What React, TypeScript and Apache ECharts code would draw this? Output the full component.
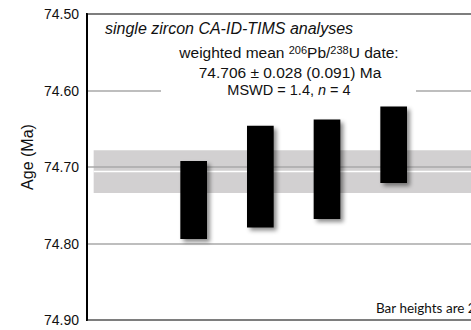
import React, { useEffect, useRef } from "react";
import * as echarts from "echarts";

// Analyses: x position, 2σ range (Ma)
const analyses = [1, 2, 3, 4];
const barTop = [74.692, 74.646, 74.638, 74.621];
const barBottom = [74.794, 74.779, 74.768, 74.721];

// weighted mean and uncertainty
const meanAge = 74.706;
const meanErr = 0.028;
const bandRange = [-0.5, 6.9];

const yTicks = [74.5, 74.6, 74.7, 74.8, 74.9];

export default function App() {
  const ref = useRef<HTMLDivElement>(null);
  useEffect(() => {
    if (!ref.current) return;
    const chart = echarts.init(ref.current, undefined, { renderer: "svg" });
    const font = "'Liberation Sans', Arial, sans-serif";
    chart.setOption({
      animation: false,
      backgroundColor: "#fff",
      grid: {
        left: 87,
        top: 14,
        width: 500,
        height: 306,
        outerBoundsMode: "none",
        containLabel: false,
        show: true,
        borderColor: "#000",
        borderWidth: 2,
        backgroundColor: "transparent",
      },
      xAxis: {
        type: "value",
        min: -0.6,
        max: 6.9,
        show: false,
      },
      yAxis: {
        type: "value",
        inverse: true,
        min: yTicks[0],
        max: yTicks[yTicks.length - 1],
        interval: 0.1,
        axisLine: { show: true, onZero: false, lineStyle: { color: "#000", width: 2 } },
        axisTick: { show: false },
        axisLabel: {
          color: "#111",
          fontFamily: font,
          fontSize: 14,
          margin: 8,
          formatter: (v: number) => v.toFixed(2),
        },
        splitLine: { show: true, lineStyle: { color: "#a8a8a8", width: 1.5 } },
      },
      series: [
        {
          type: "custom",
          z: -1,
          silent: true,
          data: [[bandRange[0], bandRange[1]]],
          renderItem: (params: any, api: any) => {
            const x0 = api.value(0);
            const x1 = api.value(1);
            const p0 = api.coord([x0, meanAge - meanErr]);
            const p1 = api.coord([x1, meanAge + meanErr]);
            const m0 = api.coord([x0, meanAge]);
            const m1 = api.coord([x1, meanAge]);
            return {
              type: "group",
              children: [
                {
                  type: "rect",
                  shape: { x: p0[0], y: p0[1], width: p1[0] - p0[0], height: p1[1] - p0[1] },
                  style: { fill: "#d2d0d1" },
                },
                {
                  type: "line",
                  shape: { x1: m0[0], y1: m0[1], x2: m1[0], y2: m1[1] },
                  style: { stroke: "#fff", lineWidth: 1.5 },
                },
              ],
            };
          },
        },
        {
          type: "custom",
          z: 3,
          data: analyses.map((x, i) => [x, barTop[i], barBottom[i]]),
          renderItem: (params: any, api: any) => {
            const x = api.value(0);
            const t = api.coord([x, api.value(1)]);
            const b = api.coord([x, api.value(2)]);
            const w = api.size([0.4, 0])[0];
            return {
              type: "rect",
              shape: { x: t[0] - w / 2, y: t[1], width: w, height: b[1] - t[1] },
              style: {
                fill: "#000",
                shadowBlur: 4,
                shadowOffsetX: 3,
                shadowOffsetY: 3,
                shadowColor: "rgba(0,0,0,0.45)",
              },
            };
          },
        },
      ],
      graphic: [
        {
          type: "rect",
          z: 50,
          shape: { x: 161, y: 84, width: 255, height: 12 },
          style: { fill: "#fff" },
        },
        {
          type: "text",
          z: 60,
          x: 105,
          y: 28,
          style: {
            text: "single zircon CA-ID-TIMS analyses",
            fontFamily: font,
            fontStyle: "italic",
            fontSize: 16,
            fill: "#111",
            align: "left",
            verticalAlign: "middle",
          },
        },
        {
          type: "text",
          z: 60,
          x: 289,
          y: 52,
          style: {
            text: "weighted mean {sup|206}Pb/{sup|238}U date:",
            fontFamily: font,
            fontSize: 15.5,
            fill: "#111",
            align: "center",
            verticalAlign: "middle",
            rich: {
              sup: { fontSize: 11, fontFamily: font, fill: "#111", verticalAlign: "top", lineHeight: 10 },
            },
          },
        },
        {
          type: "text",
          z: 60,
          x: 290,
          y: 72,
          style: {
            text: "74.706 ± 0.028 (0.091) Ma",
            fontFamily: font,
            fontSize: 15.5,
            fill: "#111",
            align: "center",
            verticalAlign: "middle",
          },
        },
        {
          type: "text",
          z: 60,
          x: 289,
          y: 90,
          style: {
            text: "MSWD = 1.4, {i|n} = 4",
            fontFamily: font,
            fontSize: 14.5,
            fill: "#111",
            align: "center",
            verticalAlign: "middle",
            rich: {
              i: { fontStyle: "italic", fontSize: 14.5, fontFamily: font, fill: "#111" },
            },
          },
        },
        {
          type: "text",
          z: 60,
          x: 27,
          y: 157,
          rotation: Math.PI / 2,
          style: {
            text: "Age (Ma)",
            fontFamily: font,
            fontSize: 16,
            fill: "#111",
            align: "center",
            verticalAlign: "middle",
          },
        },
        {
          type: "text",
          z: 60,
          x: 376,
          y: 308,
          style: {
            text: "Bar heights are 2σ",
            fontFamily: "Lato, 'Open Sans', sans-serif",
            fontSize: 13.5,
            fill: "#111",
            align: "left",
            verticalAlign: "middle",
          },
        },
      ],
    });
    return () => chart.dispose();
  }, []);
  return (
    <div
      ref={ref}
      style={{ position: "fixed", left: 0, top: 0, width: 471, height: 330 }}
    />
  );
}
